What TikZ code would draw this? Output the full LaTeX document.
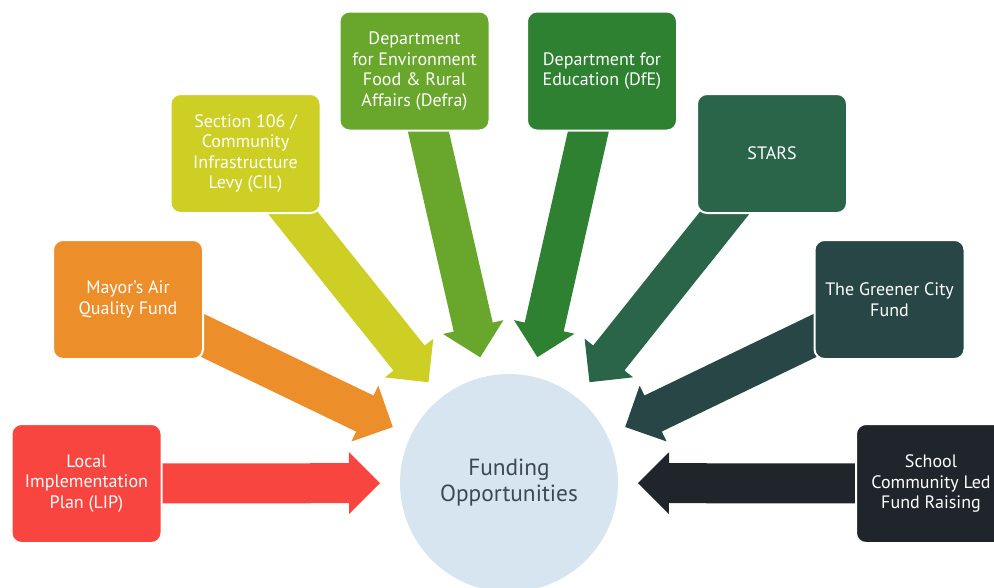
\documentclass[tikz,border=0pt]{standalone}
\usepackage{fontspec}
\setmainfont{PT Sans}
\usepackage{xcolor}
\usetikzlibrary{calc,backgrounds}

\definecolor{lipred}{HTML}{F9453F}
\definecolor{airorange}{HTML}{EC8F2B}
\definecolor{cilyellow}{HTML}{CDCF25}
\definecolor{defragreen}{HTML}{68A72B}
\definecolor{dfegreen}{HTML}{2E8130}
\definecolor{starsgreen}{HTML}{2A6549}
\definecolor{citygreen}{HTML}{274645}
\definecolor{schooldark}{HTML}{1F252B}
\definecolor{fundblue}{HTML}{D6E5EF}
\definecolor{fundtext}{HTML}{3C4955}

% block arrow from a box towards the circle: colour, box
\newcommand{\fundarrow}[2]{%
  \coordinate (tip) at ($(fund.center)!96.75pt!(#2.center)$);
  \coordinate (neck) at ($(tip)!23.25pt!(#2.center)$);
  \fill[#1] ($(#2.center)!15pt!90:(tip)$) -- ($(neck)!15pt!90:(tip)$)
    -- ($(neck)!23.25pt!90:(tip)$) -- (tip) -- ($(neck)!23.25pt!-90:(tip)$)
    -- ($(neck)!15pt!-90:(tip)$) -- ($(#2.center)!15pt!-90:(tip)$) -- cycle;
}

\begin{document}
\begin{tikzpicture}[x=0.75pt,y=-0.75pt,
  fundbox/.style={rounded corners=7.5pt, draw=white, line width=1.5pt,
    minimum width=112.5pt, minimum height=89.25pt, inner sep=0pt,
    text=white, align=center, font=\fontsize{13.5}{15.4}\selectfont},
  fundcircle/.style={circle, fill=fundblue, minimum size=163.5pt, inner sep=0pt,
    text=fundtext, align=center, font=\fontsize{17.5}{19.5}\selectfont}]
\useasboundingbox (0,0) rectangle (994,587);

% Circle
\node[fundcircle] (fund) at (509,483) {Funding\\Opportunities};

% Boxes
\node[fundbox, fill=lipred] (lip) at (86.5,483.5) {Local\\Implementation\\Plan (LIP)};
\node[fundbox, fill=airorange] (air) at (128,299.5) {Mayor’s Air\\Quality Fund};
\node[fundbox, fill=cilyellow] (cil) at (245.5,153.5) {Section 106 /\\Community\\Infrastructure\\Levy (CIL)};
\node[fundbox, fill=defragreen] (defra) at (414.5,71) {Department\\for Environment\\Food \& Rural\\Affairs (Defra)};
\node[fundbox, fill=dfegreen] (dfe) at (602,71) {Department for\\Education (DfE)};
\node[fundbox, fill=starsgreen] (stars) at (772,153.5) {STARS};
\node[fundbox, fill=citygreen] (city) at (889.5,299.5) {The Greener City\\Fund};
\node[fundbox, fill=schooldark] (school) at (931,483.5) {School\\Community Led\\Fund Raising};

% Arrows
\begin{scope}[on background layer]
\fundarrow{lipred}{lip}
\fundarrow{airorange}{air}
\fundarrow{cilyellow}{cil}
\fundarrow{defragreen}{defra}
\fundarrow{dfegreen}{dfe}
\fundarrow{starsgreen}{stars}
\fundarrow{citygreen}{city}
\fundarrow{schooldark}{school}
\end{scope}
\end{tikzpicture}
\end{document}
